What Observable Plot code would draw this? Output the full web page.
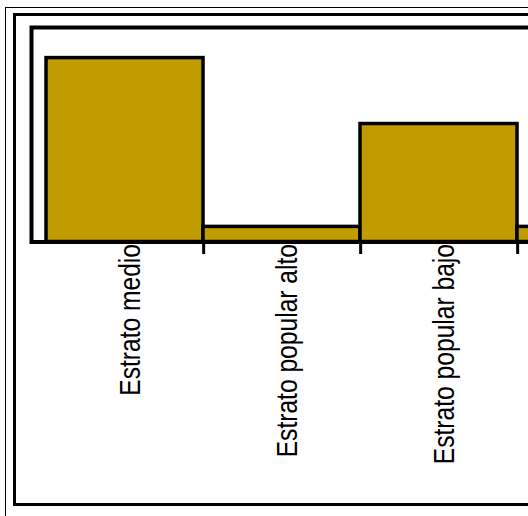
<!DOCTYPE html>
<html>
<head>
<meta charset="utf-8">
<script src="https://cdn.jsdelivr.net/npm/d3@7"></script>
<script src="https://cdn.jsdelivr.net/npm/@observablehq/plot@0.6"></script>
<style>
  html, body { margin: 0; padding: 0; width: 528px; height: 516px; overflow: hidden; background: #fff; }
  #b1 { position: absolute; left: 5px; top: 7px; width: 1000px; height: 1000px; border-left: 1px solid #000; border-top: 1px solid #000; }
  #b2 { position: absolute; left: 13px; top: 13px; width: 1000px; height: 493px; box-sizing: border-box; border: 3px solid #000; }
  #chart { position: absolute; left: 0; top: 0; }
  #chart svg { max-width: none !important; background: transparent !important; }
</style>
</head>
<body>
<div id="b1"></div>
<div id="b2"></div>
<div id="chart"></div>
<script>
const categories = ["Estrato medio", "Estrato popular alto", "Estrato popular bajo", "Estrato marginal"];
const values = [46.3, 3.8, 29.7, 3.8];
const visibleLabels = 3; // the fourth category's label lies outside the cropped view

const data = categories.map((c, i) => ({category: c, value: values[i]}));
const step = 157.3;
const x0 = 45;

const plot = Plot.plot({
  width: 800,
  height: 516,
  marginLeft: 31,
  marginRight: 0,
  marginTop: 27,
  marginBottom: 274.5,
  style: {background: "transparent", fontFamily: "'Liberation Sans', Arial, sans-serif", overflow: "hidden"},
  x: {type: "band", domain: categories, range: [x0, x0 + step * categories.length], padding: 0, axis: null},
  y: {domain: [0, 54], axis: null},
  marks: [
    Plot.barY(data, {x: "category", y: "value", fill: "#c19c00", stroke: "#000", strokeWidth: 3.5}),
    Plot.frame({stroke: "#000", strokeWidth: 4}),
    Plot.ruleX(data, {x: "category", y1: 0, y2: -3.15, dx: step / 2, stroke: "#000", strokeWidth: 3}),
    Plot.text(data.slice(0, visibleLabels), {x: "category", y: 0, text: "category", rotate: -90, textAnchor: "end", lineAnchor: "middle", dx: 5, dy: 2, fontSize: 30, fill: "#000", className: "catlabel"})
  ]
});
document.getElementById("chart").appendChild(plot);
plot.querySelectorAll(".catlabel text").forEach(el => {
  const L = el.getComputedTextLength();
  el.setAttribute("textLength", L * 0.82);
  el.setAttribute("lengthAdjust", "spacingAndGlyphs");
});
</script>
</body>
</html>
